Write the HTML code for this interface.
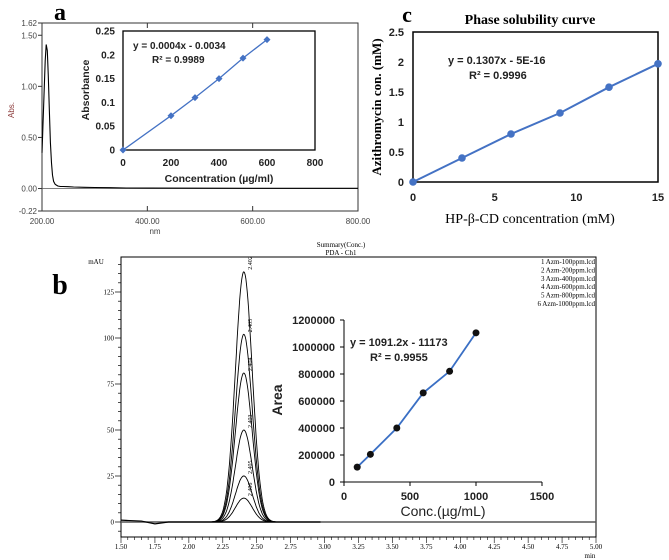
<!DOCTYPE html>
<html><head><meta charset="utf-8"><style>
html,body{margin:0;padding:0;background:#fff}
svg{display:block}
.s{font-family:"Liberation Sans",sans-serif}
.r{font-family:"Liberation Serif",serif}
</style></head><body>
<svg id="fig" width="669" height="560" viewBox="0 0 669 560" xmlns="http://www.w3.org/2000/svg">
<g id="pa"></g>
<g id="pc"></g>
<g id="pb"></g>
</svg>
<script>
// Panel a: UV spectrum
const specNm=[200,203,206,208,210,212,214,216,218,220,222,225,230,235,240,250,260,280,300,330,360,400,500,600,800];
const specAbs=[0.35,0.8,1.25,1.41,1.35,1.1,0.75,0.45,0.25,0.13,0.07,0.04,0.025,0.02,0.02,0.018,0.015,0.012,0.01,0.008,0.005,0.004,0.003,0.002,0.002];
const aTicksY=[1.62,1.50,1.00,0.50,0.00,-0.22];
const aTicksX=[200,400,600,800];
// Panel a inset calibration
const calConc=[0,200,300,400,500,600];
const calAbs=[0,0.072,0.11,0.15,0.193,0.232];
const calTicksY=[0,0.05,0.1,0.15,0.2,0.25];
const calTicksX=[0,200,400,600,800];
// Panel c
const psX=[0,3,6,9,12,15];
const psY=[0,0.4,0.8,1.15,1.58,1.97];
const psTicksY=[0,0.5,1,1.5,2,2.5];
const psTicksX=[0,5,10,15];
// Panel b chromatogram
const peakHeights=[136,102,81,50,25,13];
const peakLabels=["2.402","2.405","2.404","2.403","2.405","2.406"];
const peakRT=2.405;
const legendItems=["1 Azm-100ppm.lcd","2 Azm-200ppm.lcd","3 Azm-400ppm.lcd","4 Azm-600ppm.lcd","5 Azm-800ppm.lcd","6 Azm-1000ppm.lcd"];
const bTicksY=[0,25,50,75,100,125];
const bTicksX=[1.50,1.75,2.00,2.25,2.50,2.75,3.00,3.25,3.50,3.75,4.00,4.25,4.50,4.75,5.00];
// Panel b inset
const areaConc=[100,200,400,600,800,1000];
const areaVal=[110000,205000,400000,660000,820000,1105000];
const areaTicksY=[0,200000,400000,600000,800000,1000000,1200000];
const areaTicksX=[0,500,1000,1500];

const NS="http://www.w3.org/2000/svg";
function el(p,t,a,txt){const e=document.createElementNS(NS,t);for(const k in a)e.setAttribute(k,a[k]);if(txt!==undefined)e.textContent=txt;p.appendChild(e);return e;}
function lin(d0,d1,r0,r1){return v=>r0+(v-d0)/(d1-d0)*(r1-r0);}

// ---------- Panel a ----------
const pa=document.getElementById('pa');
let t=el(pa,'text',{x:60,y:20,'font-size':24,'font-weight':'bold',class:'r','text-anchor':'middle'},'a');


const ax=lin(200,800,42,358), ay=lin(-0.22,1.62,211,23);
let r=el(pa,'rect',{x:42,y:23,width:316,height:188,fill:'none',stroke:'#333','stroke-width':1});


aTicksY.forEach(v=>{
  let tk=el(pa,'line',{x1:38,x2:42,y1:ay(v),y2:ay(v),stroke:'#333'});
  
  
  let lb=el(pa,'text',{x:37,y:ay(v)+3,'font-size':8,'text-anchor':'end',fill:'#444',class:'s'},v.toFixed(2));
  
  
});
aTicksX.forEach(v=>{
  let tk=el(pa,'line',{x1:ax(v),x2:ax(v),y1:211,y2:206,stroke:'#333'});
  
  
  let tk2=el(pa,'line',{x1:ax(v),x2:ax(v),y1:23,y2:28,stroke:'#333'});
  
  
  let lb=el(pa,'text',{x:ax(v),y:224,'font-size':8,'text-anchor':'middle',fill:'#444',class:'s'},v.toFixed(2));
  
  
});
t=el(pa,'text',{x:155,y:234,'font-size':8,'text-anchor':'middle',fill:'#444',class:'s'},'nm');


t=el(pa,'text',{x:14,y:110,'font-size':8,'text-anchor':'middle',fill:'#8b3a3a',class:'s',transform:'rotate(-90 14 110)'},'Abs.');


let zl=el(pa,'line',{x1:42,x2:358,y1:ay(0),y2:ay(0),stroke:'#555','stroke-width':0.8});


let sp=el(pa,'path',{d:specNm.map((v,i)=>(i?'L':'M')+ax(v).toFixed(1)+','+ay(specAbs[i]).toFixed(1)).join(''),fill:'none',stroke:'#000','stroke-width':1.1});


// inset a
const ix=lin(0,800,123,315), iy=lin(0,0.25,150,31);
r=el(pa,'rect',{x:123,y:31,width:192,height:119,fill:'#fff',stroke:'#000','stroke-width':1.3});


calTicksY.forEach(v=>{
  let lb=el(pa,'text',{x:115,y:iy(v)+3.5,'font-size':10,'font-weight':'bold','text-anchor':'end',fill:'#222',class:'s'},String(v));
  
  
});
calTicksX.forEach(v=>{
  let lb=el(pa,'text',{x:ix(v),y:166,'font-size':10,'font-weight':'bold','text-anchor':'middle',fill:'#222',class:'s'},String(v));
  
  
});
t=el(pa,'text',{x:219,y:182,'font-size':10.5,'font-weight':'bold','text-anchor':'middle',fill:'#222',class:'s'},'Concentration (µg/ml)');


t=el(pa,'text',{x:89,y:90,'font-size':10.5,'font-weight':'bold','text-anchor':'middle',fill:'#222',class:'s',transform:'rotate(-90 89 90)'},'Absorbance');


let cl=el(pa,'path',{d:calConc.map((v,i)=>(i?'L':'M')+ix(v).toFixed(1)+','+iy(calAbs[i]).toFixed(1)).join(''),fill:'none',stroke:'#4472C4','stroke-width':1.3});


calConc.forEach((v,i)=>{
  const cx=ix(v),cy=iy(calAbs[i]);
  let m=el(pa,'path',{d:`M${cx},${cy-3.5}L${cx+3.5},${cy}L${cx},${cy+3.5}L${cx-3.5},${cy}Z`,fill:'#4472C4'});
  
  
});
t=el(pa,'text',{x:133,y:49,'font-size':10,'font-weight':'bold',fill:'#222',class:'s'},'y = 0.0004x - 0.0034');


t=el(pa,'text',{x:152,y:63,'font-size':10,'font-weight':'bold',fill:'#222',class:'s'},'R² = 0.9989');



// ---------- Panel c ----------
const pc=document.getElementById('pc');
const cx_=lin(0,15,413,658), cy_=lin(0,2.5,182,32);
t=el(pc,'text',{x:407,y:22,'font-size':22,'font-weight':'bold',class:'r','text-anchor':'middle'},'c');


t=el(pc,'text',{x:530,y:24,'font-size':14,'font-weight':'bold',class:'r','text-anchor':'middle'},'Phase solubility curve');


r=el(pc,'rect',{x:413,y:32,width:245,height:150,fill:'none',stroke:'#000','stroke-width':1.5});


psTicksY.forEach(v=>{
  let lb=el(pc,'text',{x:404,y:cy_(v)+4,'font-size':11,'font-weight':'bold','text-anchor':'end',fill:'#222',class:'s'},String(v));
  
  
});
psTicksX.forEach(v=>{
  let lb=el(pc,'text',{x:cx_(v),y:201,'font-size':11,'font-weight':'bold','text-anchor':'middle',fill:'#222',class:'s'},String(v));
  
  
});
t=el(pc,'text',{x:530,y:223,'font-size':14,class:'r','text-anchor':'middle'},'HP-β-CD concentration (mM)');


t=el(pc,'text',{x:381,y:107,'font-size':13,'font-weight':'bold',class:'r','text-anchor':'middle',transform:'rotate(-90 381 107)'},'Azithromycin con. (mM)');


let pl=el(pc,'path',{d:psX.map((v,i)=>(i?'L':'M')+cx_(v).toFixed(1)+','+cy_(psY[i]).toFixed(1)).join(''),fill:'none',stroke:'#4472C4','stroke-width':2});


psX.forEach((v,i)=>{
  let m=el(pc,'circle',{cx:cx_(v),cy:cy_(psY[i]),r:3.8,fill:'#4472C4'});
  
  
});
t=el(pc,'text',{x:448,y:64,'font-size':11,'font-weight':'bold',fill:'#222',class:'s'},'y = 0.1307x - 5E-16');


t=el(pc,'text',{x:469,y:79,'font-size':11,'font-weight':'bold',fill:'#222',class:'s'},'R² = 0.9996');



// ---------- Panel b ----------
const pb=document.getElementById('pb');
const bx=lin(1.5,5.0,121,596), by=lin(0,125,522,292);
t=el(pb,'text',{x:60,y:294,'font-size':28,'font-weight':'bold',class:'r','text-anchor':'middle'},'b');


t=el(pb,'text',{x:341,y:247,'font-size':7,class:'r','text-anchor':'middle'},'Summary(Conc.)');


t=el(pb,'text',{x:341,y:255,'font-size':7,class:'r','text-anchor':'middle'},'PDA - Ch1');


t=el(pb,'text',{x:96,y:264,'font-size':7,class:'r','text-anchor':'middle'},'mAU');


r=el(pb,'rect',{x:121,y:257,width:475,height:280,fill:'none',stroke:'#000','stroke-width':1});


for(let v=-5;v<=140;v+=5){
  let tk=el(pb,'line',{x1:121,x2:v%25===0?115:118,y1:by(v),y2:by(v),stroke:'#000','stroke-width':0.7});
  
  
}
bTicksY.forEach(v=>{
  let lb=el(pb,'text',{x:114,y:by(v)+2.5,'font-size':7,'text-anchor':'end',class:'r'},String(v));
  
  
});
for(let v=1.5;v<=5.001;v+=0.05){
  const major=Math.abs(v*4-Math.round(v*4))<1e-6;
  let tk=el(pb,'line',{x1:bx(v),x2:bx(v),y1:537,y2:major?543:540,stroke:'#000','stroke-width':0.6});
  
  
}
bTicksX.forEach(v=>{
  let lb=el(pb,'text',{x:bx(v),y:549,'font-size':7,'text-anchor':'middle',class:'r'},v.toFixed(2));
  
  
});
t=el(pb,'text',{x:590,y:558,'font-size':7,class:'r','text-anchor':'middle'},'min');


legendItems.forEach((s,i)=>{
  let lb=el(pb,'text',{x:595,y:264+i*8.4,'font-size':7,class:'r','text-anchor':'end'},s);
  
  
});
// inset background (drawn before baseline so baseline stays visible)
r=el(pb,'rect',{x:290,y:314,width:258,height:202,fill:'#fff'});


let base=el(pb,'line',{x1:121,x2:596,y1:by(0),y2:by(0),stroke:'#555','stroke-width':1.4});


let wig=el(pb,'path',{d:`M${bx(1.5)},${by(1)}L${bx(1.65)},${by(0.5)}L${bx(1.75)},${by(-1)}L${bx(1.85)},${by(0)}L${bx(2.97)},${by(0)}`,fill:'none',stroke:'#000','stroke-width':1.2});


const sig=0.062;
peakHeights.forEach((h,i)=>{
  let d='';
  for(let tt=2.1;tt<=2.75;tt+=0.005){const v=h*Math.exp(-Math.pow(tt-peakRT,2)/(2*sig*sig));d+=(d?'L':'M')+bx(tt).toFixed(1)+','+by(v).toFixed(1);}
  let p=el(pb,'path',{d:d,fill:'none',stroke:'#000','stroke-width':0.9});
  
  
  const lx=bx(peakRT)+8, ly=by(h)-2;
  let lb=el(pb,'text',{x:lx,y:ly,'font-size':6,class:'r',transform:`rotate(-90 ${lx} ${ly})`},peakLabels[i]);
  
  
});
// inset b
const qx=lin(0,1500,344,542), qy=lin(0,1200000,482,320);
let axl=el(pb,'path',{d:'M344,320L344,482L542,482',fill:'none',stroke:'#000','stroke-width':1});


areaTicksY.forEach(v=>{
  let tk=el(pb,'line',{x1:340,x2:344,y1:qy(v),y2:qy(v),stroke:'#000'});
  
  
  let lb=el(pb,'text',{x:335,y:qy(v)+4,'font-size':11,'font-weight':'bold','text-anchor':'end',fill:'#222',class:'s'},String(v));
  
  
});
areaTicksX.forEach(v=>{
  let tk=el(pb,'line',{x1:qx(v),x2:qx(v),y1:482,y2:486,stroke:'#000'});
  
  
  let lb=el(pb,'text',{x:qx(v),y:500,'font-size':11,'font-weight':'bold','text-anchor':'middle',fill:'#222',class:'s'},String(v));
  
  
});
t=el(pb,'text',{x:443,y:516,'font-size':14,'text-anchor':'middle',fill:'#222',class:'s'},'Conc.(µg/mL)');


t=el(pb,'text',{x:282,y:400,'font-size':14,'font-weight':'bold','text-anchor':'middle',fill:'#222',class:'s',transform:'rotate(-90 282 400)'},'Area');


let al=el(pb,'path',{d:areaConc.map((v,i)=>(i?'L':'M')+qx(v).toFixed(1)+','+qy(areaVal[i]).toFixed(1)).join(''),fill:'none',stroke:'#3a6fc4','stroke-width':1.8});


areaConc.forEach((v,i)=>{
  let m=el(pb,'circle',{cx:qx(v),cy:qy(areaVal[i]),r:3.5,fill:'#111'});
  
  
});
t=el(pb,'text',{x:350,y:346,'font-size':11,'font-weight':'bold',fill:'#222',class:'s'},'y = 1091.2x - 11173');


t=el(pb,'text',{x:370,y:361,'font-size':11,'font-weight':'bold',fill:'#222',class:'s'},'R² = 0.9955');


</script>
</body></html>
